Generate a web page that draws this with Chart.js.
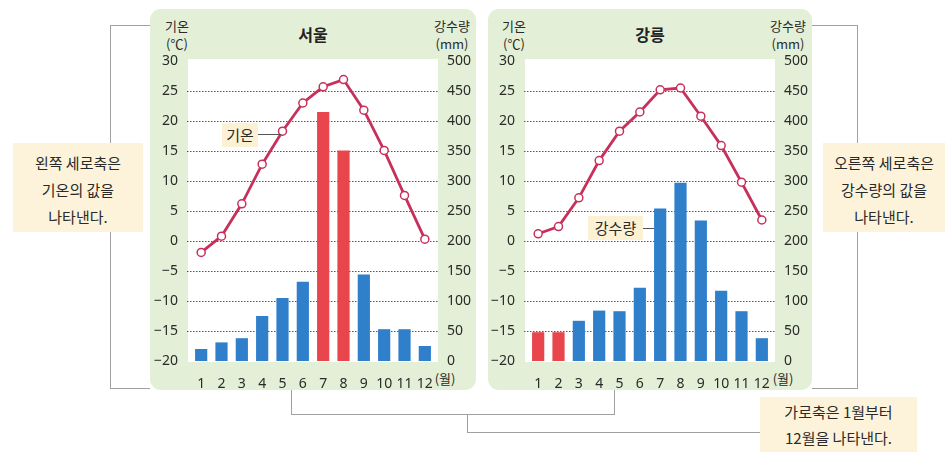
<!DOCTYPE html>
<html><head><meta charset="utf-8">
<script src="https://cdn.jsdelivr.net/npm/chart.js@4"></script>
<style>
body{margin:0;width:948px;height:452px;background:#fff;position:relative;overflow:hidden;font-family:"Noto Sans CJK KR","Noto Sans",sans-serif;color:#333;}
.panel{position:absolute;background:#e3efd6;border-radius:11px;}
.plotbg{position:absolute;background:#fff;}
.cv{position:absolute;}
.t{position:absolute;transform:translate(-50%,-50%);white-space:nowrap;line-height:1;color:#2a2a2a;}
.ln{position:absolute;border:0 solid #a0a0a0;box-sizing:border-box;}
.note{position:absolute;background:#fdf3da;text-align:center;font-size:15px;color:#2a2a2a;box-sizing:border-box;}
.tag{position:absolute;background:#fdf1d4;font-size:15px;color:#2a2a2a;text-align:center;box-sizing:border-box;}
</style>
</head><body>

<div class="ln" style="left:110px;top:25px;width:40px;height:118px;border-left-width:1px;border-top-width:1px"></div>
<div class="ln" style="left:110px;top:232px;width:40px;height:157px;border-left-width:1px;border-bottom-width:1px"></div>
<div class="ln" style="left:812px;top:25px;width:46px;height:118px;border-right-width:1px;border-top-width:1px"></div>
<div class="ln" style="left:812px;top:232px;width:46px;height:157px;border-right-width:1px;border-bottom-width:1px"></div>
<div class="ln" style="left:291px;top:389px;width:324px;height:26px;border-left-width:1px;border-right-width:1px;border-bottom-width:1px"></div>
<div class="ln" style="left:467px;top:414px;width:294px;height:19px;border-left-width:1px;border-bottom-width:1px"></div>

<div class="note" style="left:13px;top:143px;width:130px;height:89px;padding-top:6px;line-height:27px">왼쪽 세로축은<br>기온의 값을<br>나타낸다.</div>
<div class="note" style="left:823px;top:143px;width:122px;height:89px;padding-top:6px;line-height:27px">오른쪽 세로축은<br>강수량의 값을<br>나타낸다.</div>
<div class="note" style="left:760px;top:397px;width:157px;height:60px;padding-top:2px;line-height:26px">가로축은 1월부터<br>12월을 나타낸다.</div>

<div class="panel" style="left:150px;top:9px;width:326px;height:381px"></div>
<div class="panel" style="left:488px;top:9px;width:324px;height:381px"></div>
<div class="plotbg" style="left:188px;top:59px;width:250px;height:303px"></div>
<div class="plotbg" style="left:525px;top:59px;width:250px;height:303px"></div>

<div class="t" style="left:313px;top:34px;font-size:16px;font-weight:bold;color:#222">서울</div>
<div class="t" style="left:650px;top:34px;font-size:16px;font-weight:bold;color:#222">강릉</div>
<div class="t" style="left:177px;top:25px;font-size:13px">기온</div>
<div class="t" style="left:177px;top:43px;font-size:13px">(℃)</div>
<div class="t" style="left:452px;top:25px;font-size:13px">강수량</div>
<div class="t" style="left:452px;top:43px;font-size:13px">(mm)</div>
<div class="t" style="left:514px;top:25px;font-size:13px">기온</div>
<div class="t" style="left:514px;top:43px;font-size:13px">(℃)</div>
<div class="t" style="left:788px;top:25px;font-size:13px">강수량</div>
<div class="t" style="left:788px;top:43px;font-size:13px">(mm)</div>
<div class="t" style="left:445px;top:378px;font-size:13px">(월)</div>
<div class="t" style="left:783px;top:378px;font-size:13px">(월)</div>

<canvas id="c1" class="cv" style="left:150px;top:10px;width:326px;height:380px" width="326" height="380"></canvas>
<canvas id="c2" class="cv" style="left:488px;top:10px;width:324px;height:380px" width="324" height="380"></canvas>

<div class="ln" style="left:258px;top:134px;width:23px;height:1px;border-top-width:1px;border-color:#555"></div>
<div class="tag" style="left:222px;top:123px;width:36px;height:24px;line-height:24px">기온</div>
<div class="ln" style="left:643px;top:228px;width:11px;height:1px;border-top-width:1px;border-color:#555"></div>
<div class="tag" style="left:588px;top:216px;width:55px;height:24px;line-height:24px">강수량</div>

<script>
const months = ['1','2','3','4','5','6','7','8','9','10','11','12'];
const seoulTemp = [-1.9, 0.8, 6.2, 12.8, 18.3, 23.0, 25.7, 26.9, 21.8, 15.1, 7.6, 0.3];
const seoulRain = [20, 31, 38, 75, 105, 132, 415, 351, 144, 53, 53, 25];
const seoulWetMonths = ['7','8'];
const gangTemp = [1.2, 2.4, 7.2, 13.4, 18.3, 21.5, 25.2, 25.5, 20.8, 15.9, 9.8, 3.5];
const gangRain = [48, 48, 67, 84, 83, 122, 254, 297, 234, 117, 83, 38];
const gangHiMonths = ['1','2'];
const tempTicks = [-20, 30, 5];
const rainTicks = [0, 500, 50];

const BLUE = '#2f7fcb', RED = '#e8454c', LINE = '#c8305c';

const gridPlugin = {
  id: 'dotgrid',
  beforeDatasetsDraw(chart) {
    const ctx = chart.ctx, a = chart.chartArea, s = chart.scales.yT;
    ctx.save();
    ctx.strokeStyle = '#555';
    ctx.lineWidth = 1;
    ctx.setLineDash([1.5, 1.5]);
    s.ticks.forEach(t => {
      if (t.value <= s.min || t.value >= s.max) return;
      const y = Math.round(s.getPixelForValue(t.value)) + 0.5;
      ctx.beginPath();
      ctx.moveTo(a.left - 4, y);
      ctx.lineTo(a.right + 4, y);
      ctx.stroke();
    });
    ctx.restore();
  }
};

function fmt(v){ return v < 0 ? '\u2212' + Math.abs(v) : String(v); }

function makeChart(id, temps, rains, hiMonths, leftW, rightW) {
  const colors = months.map(m => hiMonths.includes(m) ? RED : BLUE);
  const tickFont = {family: '"Noto Sans", sans-serif', size: 14};
  return new Chart(document.getElementById(id), {
    data: {
      labels: months,
      datasets: [
        {type: 'line', data: temps, yAxisID: 'yT', order: 0,
         borderColor: LINE, borderWidth: 2.8, pointRadius: 4, pointBorderWidth: 1.5,
         pointBackgroundColor: '#fff', pointBorderColor: LINE, tension: 0},
        {type: 'bar', data: rains, yAxisID: 'yR', order: 1,
         backgroundColor: colors, categoryPercentage: 1, barPercentage: 0.6}
      ]
    },
    options: {
      responsive: false, animation: false, devicePixelRatio: 1,
      layout: {padding: {top: 51, left: 0, right: 0, bottom: 0}},
      plugins: {legend: {display: false}, tooltip: {enabled: false}, title: {display: false}},
      scales: {
        x: {offset: true, grid: {display: false}, border: {display: false},
            ticks: {color: '#2a2a2a', font: {family: '"Noto Sans", sans-serif', size: 14}, padding: 7, maxRotation: 0, autoSkip: false},
            afterFit(s){ s.height = 29; }},
        yT: {position: 'left', min: tempTicks[0], max: tempTicks[1],
             grid: {display: false}, border: {display: false},
             ticks: {stepSize: tempTicks[2], color: '#2a2a2a', font: tickFont, padding: 5, callback: v => fmt(v)},
             afterFit(s){ s.width = leftW; }},
        yR: {position: 'right', min: rainTicks[0], max: rainTicks[1],
             grid: {display: false}, border: {display: false},
             ticks: {stepSize: rainTicks[2], color: '#2a2a2a', font: tickFont, padding: 4},
             afterFit(s){ s.width = rightW; }}
      }
    },
    plugins: [gridPlugin]
  });
}

makeChart('c1', seoulTemp, seoulRain, seoulWetMonths, 41, 41);
makeChart('c2', gangTemp, gangRain, gangHiMonths, 40, 40);
</script>
</body></html>
